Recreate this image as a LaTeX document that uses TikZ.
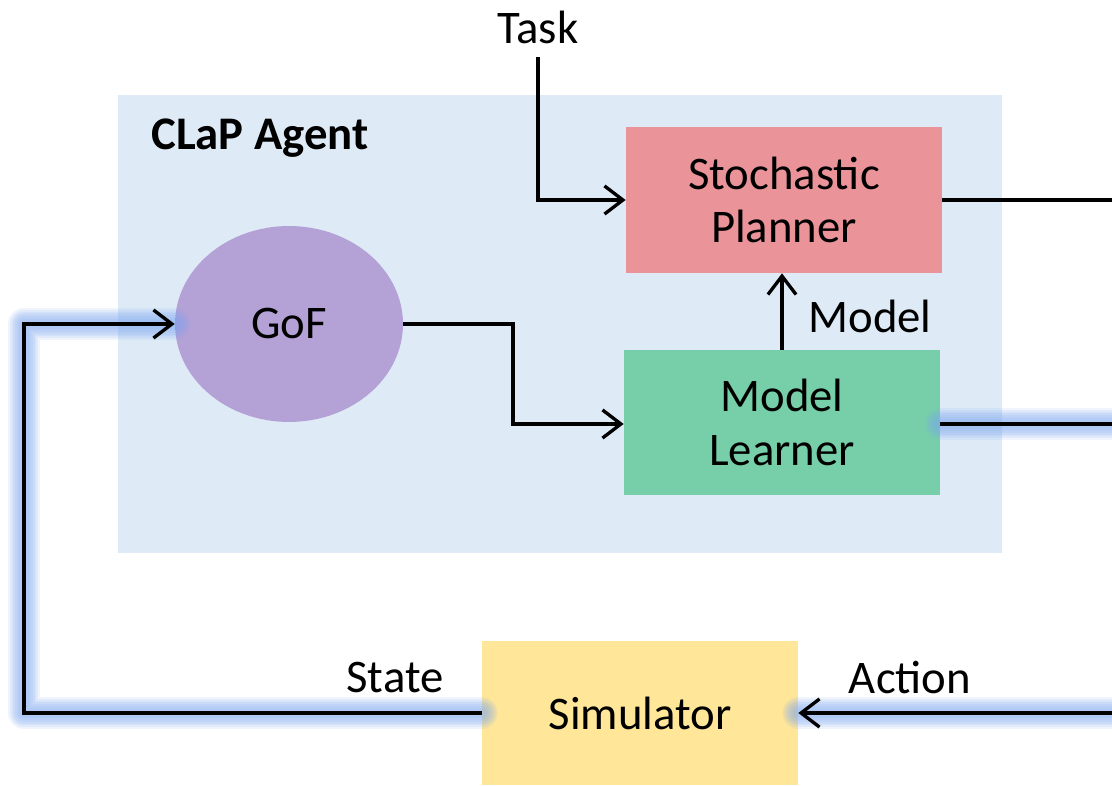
\documentclass[tikz,border=0pt]{standalone}
\usepackage{fontspec}
\setmainfont{Carlito}
\usetikzlibrary{arrows.meta,shapes.geometric}
\definecolor{agentbg}{HTML}{DEEBF7}
\definecolor{plannerc}{HTML}{EA9499}
\definecolor{learnerc}{HTML}{76CFA8}
\definecolor{gofc}{HTML}{B4A1D5}
\definecolor{simc}{HTML}{FFE699}
\definecolor{glowc}{HTML}{7FA9F2}
\begin{document}
\begin{tikzpicture}[x=0.02cm,y=-0.02cm,
  txt/.style={font=\fontsize{26.6}{30.6}\selectfont, align=center, inner sep=0pt},
  blk/.style={txt, draw=none, minimum width=6.32cm, minimum height=2.92cm},
  conn/.style={draw=black, line width=1.9pt, line join=miter,
    -{Straight Barb[length=10.5pt, width=16pt, line width=1.9pt]}},
  plainconn/.style={draw=black, line width=1.9pt},
  gl/.style={preaction={draw=glowc, -, line width=#1, opacity=0.12, line cap=round, line join=round}},
  glow/.style={gl=18pt, gl=16pt, gl=14pt, gl=12pt, gl=10pt, gl=8pt, gl=6pt}
]
\useasboundingbox (0,0) rectangle (1112,786);
\clip (0,0) rectangle (1112,786);
\fill[white] (0,0) rectangle (1112,786);
% agent background
\fill[agentbg] (118,95) rectangle (1002,553);
\node[txt, font=\fontsize{26.6}{30.6}\selectfont\bfseries] (agentlbl) at (260,138) {CLaP Agent};
% nodes
\node[blk, fill=plannerc] (plan) at (784,200) {Stochastic\\Planner};
\node[blk, fill=learnerc, minimum height=2.9cm] (learn) at (782,422.5) {Model\\Learner};
\node[txt, ellipse, fill=gofc, minimum width=4.56cm, minimum height=3.92cm] (gof) at (289,324) {GoF};
\node[blk, fill=simc, minimum height=2.88cm] (sim) at (640,713) {Simulator};
% labels
\node[txt] (task) at (538,27) {Task};
\node[txt] (modellbl) at (870,316) {Model};
\node[txt] (statelbl) at (395,678) {State};
\node[txt] (actionlbl) at (910,678) {Action};
% coordinates
\coordinate (taskstart) at (538,57);
\coordinate (r1) at (1125,200);
\coordinate (r2) at (1125,424);
\coordinate (r3) at (1125,713);
% connectors
\draw[conn] (taskstart) |- (plan.west);
\draw[plainconn] (plan.east) -- (r1);
\draw[conn] (learn.north) -- (learn.north |- plan.south);
\draw[conn] (gof.east) -- (513,324) -- (513,424) -- (learn.west |- 0,424);
\draw[plainconn, glow] (learn.east |- 0,424) -- (r2);
\draw[conn, glow] (r3) -- (sim.east);
\draw[conn, glow] (sim.west) -- (24,713) -- (24,324) -- (gof.west);
\end{tikzpicture}
\end{document}
